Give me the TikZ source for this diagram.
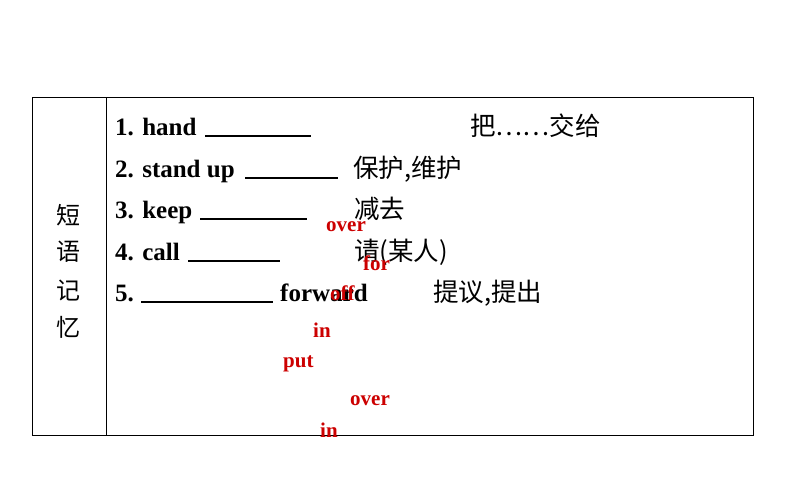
\documentclass[tikz,border=0pt]{standalone}
\usepackage{fontspec}
\setmainfont{Liberation Serif}
\newfontfamily\cjk{Noto Sans CJK SC}
\begin{document}
\begin{tikzpicture}[x=1pt,y=-1pt,
  en/.style={anchor=base west,inner sep=0pt,font=\fontsize{25}{27}\selectfont\bfseries},
  zh/.style={anchor=base west,inner sep=0pt,font=\fontsize{25.5}{27}\selectfont\cjk},
  red/.style={anchor=base west,inner sep=0pt,text={rgb,255:red,204;green,0;blue,0},font=\fontsize{21}{23}\selectfont\bfseries},
  blank/.style={line width=1.6pt}]
\useasboundingbox (0,0) rectangle (794,495);
\draw[line width=0.8pt] (32,97) rectangle (753,435);
\draw[line width=0.8pt] (106,97) -- (106,435);
\foreach \c/\y [count=\i] in {短/215,语/252,记/290,忆/327}
  \node[font=\fontsize{24}{26}\selectfont\cjk,inner sep=0pt] (l\i) at (68,\y) {\c};
\node[en] (e1) at (115,135) {1. hand};
\draw[blank] (205,136) -- (311,136);
\node[en] (e2) at (115,177) {2. stand up};
\draw[blank] (245,178) -- (338,178);
\node[en] (e3) at (115,218) {3. keep};
\draw[blank] (200,219) -- (307,219);
\node[en] (e4) at (115,260) {4. call};
\draw[blank] (188,261) -- (280,261);
\node[en] (e5) at (115,301) {5.};
\draw[blank] (141,302) -- (273,302);
\node[en] (e6) at (280,301) {forward};
\node[zh] (z1) at (470,135) {把……交给};
\node[zh] (z2) at (353,177) {保护,维护};
\node[zh] (z3) at (354,218) {减去};
\node[zh] (z4) at (354,260) {请(某人)};
\node[zh] (z5) at (433,301) {提议,提出};
\node[red] (r1) at (326,231) {over};
\node[red] (r2) at (363,270) {for};
\node[red] (r3) at (330,300) {off};
\node[red] (r4) at (313,337) {in};
\node[red] (r5) at (283,367) {put};
\node[red] (r6) at (350,405) {over};
\node[red] (r7) at (320,437) {in};
\end{tikzpicture}
\end{document}
